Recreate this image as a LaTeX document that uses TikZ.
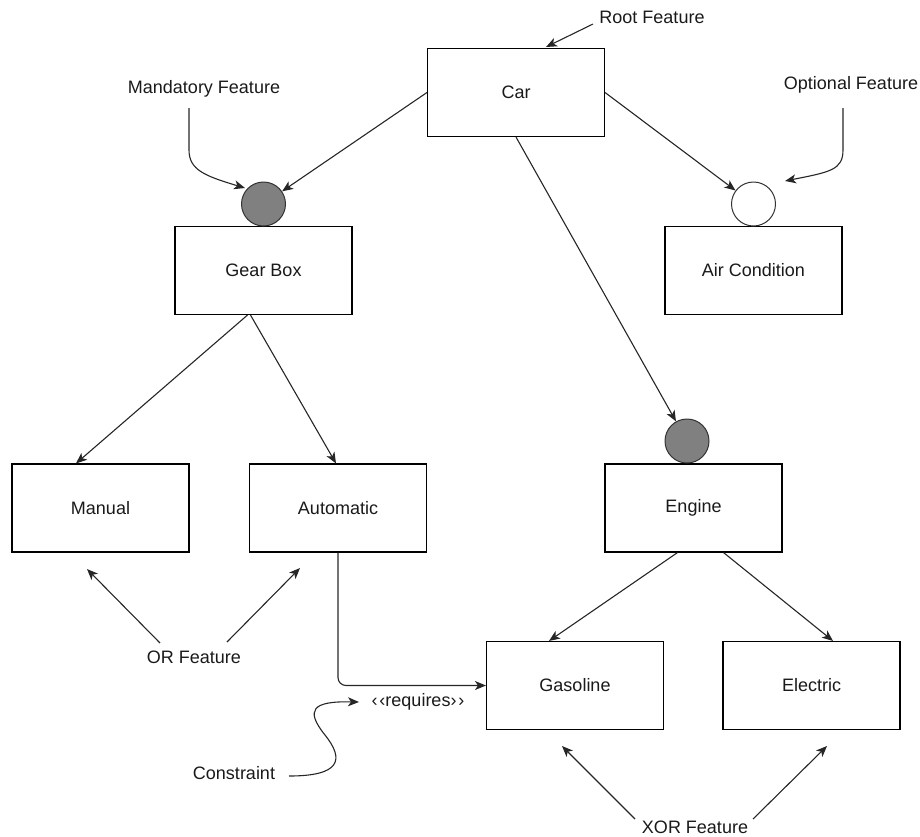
\documentclass[tikz,border=0pt]{standalone}
\usepackage{fontspec}
\setmainfont{Liberation Sans}
\usetikzlibrary{arrows.meta}
\definecolor{txt}{HTML}{1A1A1A}
\definecolor{mand}{HTML}{808080}
\begin{document}
\begin{tikzpicture}[x=1pt,y=-1pt,
  font=\fontsize{18}{21}\selectfont,
  feat/.style={draw=black,line width=1.1pt,fill=white,minimum width=177pt,minimum height=88pt,inner sep=0pt,text=txt},
  mcirc/.style={circle,draw=black!80,line width=1pt,fill=mand,minimum size=44pt,inner sep=0pt},
  ocirc/.style={circle,draw=black!80,line width=1pt,fill=white,minimum size=44pt,inner sep=0pt},
  lbl/.style={text=txt,inner sep=1pt},
  conn/.style={draw=black!85,line width=1.1pt,-{Stealth[length=11pt,width=9pt,inset=3pt]}},
]
\useasboundingbox (0,0) rectangle (920,836);
% features
\node[feat] (car) at (516,92.5) {Car};
\node[feat] (gear) at (263.5,270.5) {Gear Box};
\node[feat] (air) at (753.5,270.5) {Air Condition};
\node[feat] (man) at (100.5,508) {Manual};
\node[feat] (auto) at (338,508) {Automatic};
\node[feat] (eng) at (693.5,508) {Engine};
\node[feat] (gas) at (575,685.5) {Gasoline};
\node[feat] (ele) at (811.5,685.5) {Electric};
% circles
\node[mcirc] (cgear) at (263.5,204) {};
\node[ocirc] (cair) at (753.5,204) {};
\node[mcirc] (ceng) at (687,441) {};
% labels
\node[lbl] (root) at (652,17) {Root Feature};
\node[lbl] (mandl) at (204,89) {Mandatory Feature};
\node[lbl] (optl) at (851,85) {Optional Feature};
\node[lbl] (orl) at (194,657) {OR Feature};
\node[lbl] (xorl) at (695,827) {XOR Feature};
\node[lbl] (req) at (418,702) {‹\kern2pt‹requires›\kern2pt›};
\node[lbl] (cons) at (234,773) {Constraint};
% coordinates
\coordinate (rootS) at (593,24);
\coordinate (rootE) at (546,47);
\coordinate (mandS) at (189,108);
\coordinate (mandE) at (245,188);
\coordinate (optS) at (843,108);
\coordinate (optE) at (785,181);
\coordinate (orS1) at (160,643);
\coordinate (orE1) at (87,569);
\coordinate (orS2) at (227,642);
\coordinate (orE2) at (300,568);
\coordinate (xS1) at (635,819);
\coordinate (xE1) at (562,746);
\coordinate (xS2) at (753,819);
\coordinate (xE2) at (827,746);
\coordinate (cS) at (289,776);
\coordinate (cE) at (359,702);
% tree connectors
\draw[conn] (car.west) -- (cgear);
\draw[conn] (car.east) -- (cair);
\draw[conn] (car.south) -- (ceng);
\draw[conn] ([xshift=-16pt]gear.south) -- ([xshift=-24.5pt]man.north);
\draw[conn] ([xshift=-13pt]gear.south) -- ([xshift=-2pt]auto.north);
\draw[conn] ([xshift=-16pt]eng.south) -- ([xshift=-26pt]gas.north);
\draw[conn] ([xshift=30pt]eng.south) -- ([xshift=21.5pt]ele.north);
\draw[conn,rounded corners=8pt] (auto.south) -- (auto.south |- gas.west) -- (gas.west);
% annotation arrows
\draw[conn] (rootS) -- (rootE);
\draw[conn] (mandS) -- (189,150) .. controls (189,170) and (205,176) .. (mandE);
\draw[conn] (optS) -- (843,150) .. controls (843,170) and (830,172) .. (optE);
\draw[conn] (orS1) -- (orE1);
\draw[conn] (orS2) -- (orE2);
\draw[conn] (xS1) -- (xE1);
\draw[conn] (xS2) -- (xE2);
\draw[conn] (cS) .. controls (340,776) and (345,760) .. (325,735) .. controls (305,710) and (312,701) .. (cE);
\end{tikzpicture}
\end{document}
